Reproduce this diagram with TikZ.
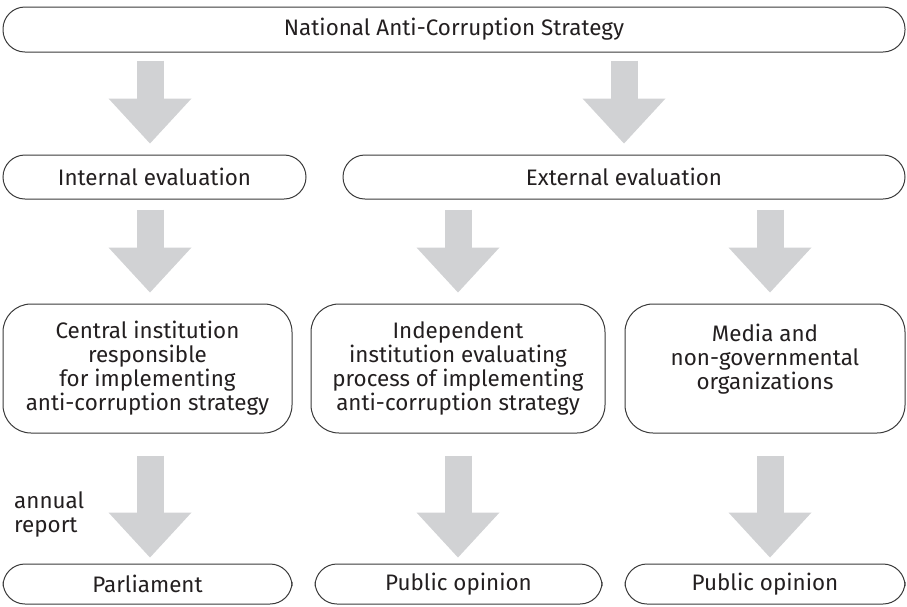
\documentclass[tikz,border=0pt]{standalone}
\usepackage{fontspec}
\setmainfont{Fira Sans}
\usetikzlibrary{arrows.meta}
\definecolor{framegray}{HTML}{3A3A3A}
\definecolor{arrowgray}{HTML}{D1D2D4}
\definecolor{textgray}{HTML}{231F20}
\tikzstyle{pill} = [draw=framegray, line width=1pt, rounded corners=22pt, inner sep=0pt,
  text=textgray, font=\fontsize{22.4}{24}\selectfont]
\tikzstyle{block} = [draw=framegray, line width=1pt, rounded corners=28pt, inner sep=0pt,
  minimum height=129pt, align=center, text=textgray, font=\fontsize{22.4}{24}\selectfont]
\tikzstyle{flow} = [line width=27pt, draw=arrowgray,
  -{Triangle[width=83pt, length=45pt, line width=0pt]}]

\begin{document}
\begin{tikzpicture}[x=1pt, y=-1pt]
	\useasboundingbox (0,0) rectangle (907,606);
	% columns of the arrows
	\coordinate (colA) at (150,0);
	\coordinate (colB) at (458,0);
	\coordinate (colC) at (770,0);

	\node[pill, minimum width=902pt, minimum height=45pt] (nat) at (454,29.5)
		{National Anti-Corruption Strategy};

	\node[pill, minimum width=303pt, minimum height=44pt] (int) at (154.5,177)
		{Internal evaluation};
	\node[pill, minimum width=562pt, minimum height=44pt] (ext) at (624,177)
		{External evaluation};

	\node[block, minimum width=289pt] (cen) at (147.5,368.5)
		{Central institution\\responsible\\for implementing\\anti-corruption strategy};
	\node[block, minimum width=294pt] (ind) at (458,368.5)
		{Independent\\institution evaluating\\process of implementing\\anti-corruption strategy};
	\node[block, minimum width=280pt] (med) at (765,368.5)
		{Media and\\non-governmental\\organizations\\\phantom{x}};

	\node[pill, minimum width=289pt, minimum height=40pt] (par) at (147.5,584)
		{Parliament};
	\node[pill, minimum width=287pt, minimum height=40pt] (pubA) at (458.5,584)
		{Public opinion};
	\node[pill, minimum width=280pt, minimum height=40pt] (pubB) at (765,584)
		{Public opinion};

	\node[anchor=west, align=left, inner sep=0pt, text=textgray,
		font=\fontsize{22.4}{24}\selectfont] (rep) at (14,514) {annual\\report};

	% block arrows
	\draw[flow, shorten <=8pt, shorten >=11pt] (nat.south -| colA) -- (int.north -| colA);
	\draw[flow, shorten <=8pt, shorten >=11pt] (nat.south -| ext) -- (ext.north);

	\draw[flow, shorten <=10pt, shorten >=11pt] (int.south -| colA) -- (cen.north -| colA);
	\draw[flow, shorten <=10pt, shorten >=11pt] (ext.south -| colB) -- (ind.north -| colB);
	\draw[flow, shorten <=10pt, shorten >=11pt] (ext.south -| colC) -- (med.north -| colC);

	\draw[flow, shorten <=22pt, shorten >=6pt] (cen.south -| colA) -- (par.north -| colA);
	\draw[flow, shorten <=22pt, shorten >=6pt] (ind.south -| colB) -- (pubA.north -| colB);
	\draw[flow, shorten <=22pt, shorten >=6pt] (med.south -| colC) -- (pubB.north -| colC);
\end{tikzpicture}
\end{document}
